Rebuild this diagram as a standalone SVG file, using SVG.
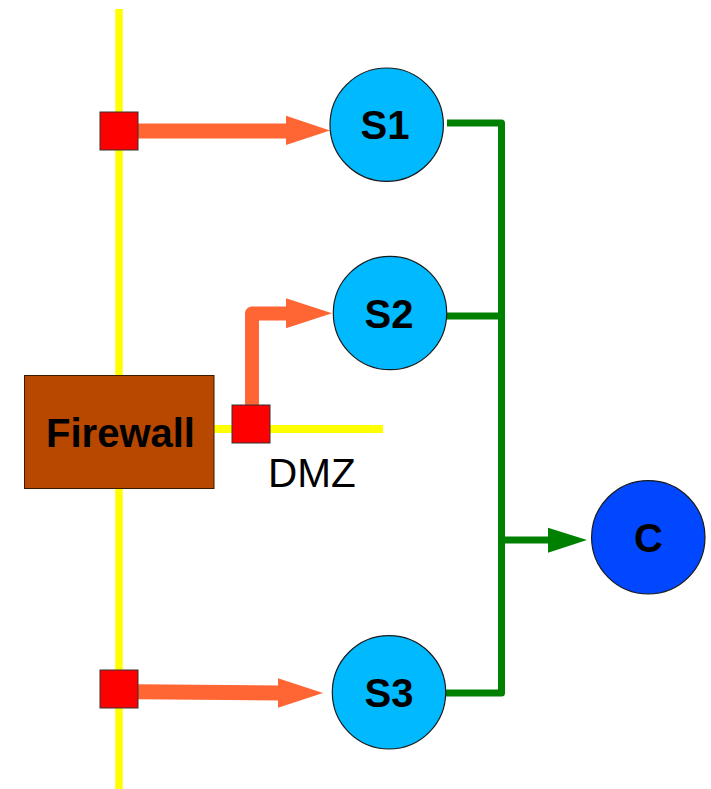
<svg xmlns="http://www.w3.org/2000/svg" width="711" height="789" viewBox="0 0 711 789">
  <style>
    .net { stroke: #ffff00; fill: none; }
    .port { fill: #ff0000; stroke: #333333; stroke-width: 1; }
    .srv { fill: #00b9ff; stroke: #1a1a1a; stroke-width: 1.2; }
    .lbl { font-family: "Liberation Sans", Arial, sans-serif; font-weight: bold; fill: #000000; text-anchor: middle; }
    .flow { stroke: #ff6633; fill: none; }
    .head { fill: #ff6633; }
    .green { stroke: #008000; stroke-width: 7; fill: none; }
  </style>
  <rect width="711" height="789" fill="#ffffff"/>

  <g id="networks">
    <line class="net" x1="119" y1="9" x2="119" y2="789" stroke-width="7.5"/>
    <line class="net" x1="214" y1="429" x2="383" y2="429" stroke-width="8"/>
  </g>

  <g id="connectors">
    <path class="flow" d="M138,131 H288" stroke-width="15"/>
    <polygon class="head" points="286,115.7 330,130.5 286,145"/>
    <path class="flow" d="M252,405 V313.5 H288" stroke-width="14" stroke-linejoin="round"/>
    <polygon class="head" points="286,298.3 332,313.3 286,328.3"/>
    <path class="flow" d="M138,691.8 L280,693" stroke-width="15"/>
    <polygon class="head" points="278,678.3 323,693 278,707.7"/>
    <path class="green" d="M447,123 H501.5 V693 H441" stroke-linejoin="round"/>
    <path class="green" d="M447,316 H501.5"/>
    <path class="green" d="M501.5,540 H550"/>
    <polygon fill="#008000" points="548,527.7 587,540 548,552.7"/>
  </g>

  <g id="firewall">
    <rect x="24.5" y="375.5" width="189.5" height="113" fill="#b84700" stroke="#3a1a00" stroke-width="1"/>
    <text class="lbl" x="120.5" y="446.5" font-size="40">Firewall</text>
  </g>

  <g id="port-top">
    <rect class="port" x="100" y="112" width="38" height="38"/>
  </g>
  <g id="port-dmz">
    <rect class="port" x="232" y="405" width="38" height="38"/>
  </g>
  <g id="port-bottom">
    <rect class="port" x="100" y="670" width="38" height="38"/>
  </g>

  <g id="dmz-label">
    <text x="268" y="487" font-family="Liberation Sans, Arial, sans-serif" font-size="40.5" fill="#000000">DMZ</text>
  </g>

  <g id="S1">
    <circle class="srv" cx="386.7" cy="124.7" r="56.7"/>
    <text class="lbl" x="385" y="138.5" font-size="40">S1</text>
  </g>
  <g id="S2">
    <circle class="srv" cx="390" cy="313" r="56.7"/>
    <text class="lbl" x="389" y="327.5" font-size="40">S2</text>
  </g>
  <g id="S3">
    <circle class="srv" cx="389" cy="692.3" r="56.7"/>
    <text class="lbl" x="389" y="706.8" font-size="40">S3</text>
  </g>
  <g id="C">
    <circle cx="648.3" cy="537.3" r="56.7" fill="#0047ff" stroke="#1a1a1a" stroke-width="1.2"/>
    <text class="lbl" x="648.5" y="551.5" font-size="40">C</text>
  </g>
</svg>
